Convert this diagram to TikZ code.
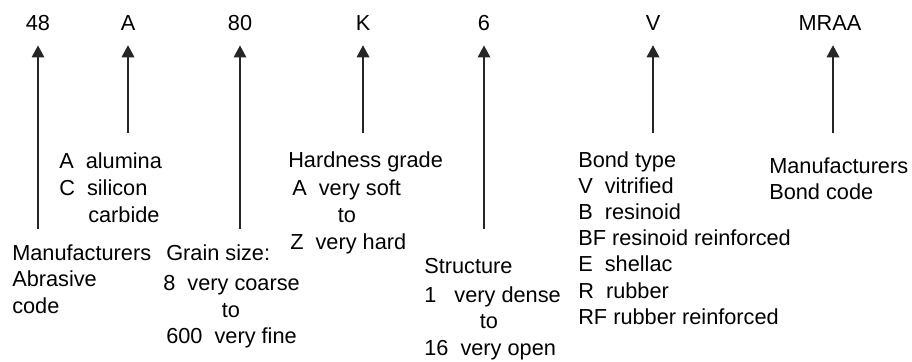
\documentclass[tikz,border=0pt]{standalone}
\usepackage{fontspec}
\setmainfont{Liberation Sans}
\usetikzlibrary{arrows.meta}
\begin{document}
\begin{tikzpicture}[x=0.75pt,y=-0.75pt,
  lbl/.style={inner sep=0pt, font=\fontsize{16.3}{19}\selectfont},
  txt/.style={lbl, anchor=base west},
  mid/.style={lbl, anchor=base},
  code/.style={lbl, anchor=base},
  ptr/.style={-{Triangle[width=9.5pt,length=9pt]}, line width=0.95pt, draw=black!85}]
\useasboundingbox (0,0) rectangle (912,361);

% designation letters and numbers
\node[code] (c48)  at (38,30)  {48};
\node[code] (cA)   at (128,30) {A};
\node[code] (c80)  at (240,30) {80};
\node[code] (cK)   at (363,30) {K};
\node[code] (c6)   at (484,30) {6};
\node[code] (cV)   at (653,30) {V};
\node[code] (cM)   at (830,30) {MRAA};

% tails of the pointers
\coordinate (t48) at (38,229);
\coordinate (tA)  at (128,133);
\coordinate (t80) at (240,229);
\coordinate (tK)  at (363,133);
\coordinate (t6)  at (484,229);
\coordinate (tV)  at (653,133);
\coordinate (tM)  at (833,133);

\draw[ptr] (t48) -- ([yshift=-11.25pt]c48.south);
\draw[ptr] (tA)  -- ([yshift=-11.25pt]cA.south);
\draw[ptr] (t80) -- ([yshift=-11.25pt]c80.south);
\draw[ptr] (tK)  -- ([yshift=-11.25pt]cK.south);
\draw[ptr] (t6)  -- ([yshift=-11.25pt]c6.south);
\draw[ptr] (tV)  -- ([yshift=-11.25pt]cV.south);
\draw[ptr] (tM)  -- ([yshift=-11.25pt]cM.south -| tM);

% abrasive manufacturer code
\node[txt] (m1) at (12,260) {Manufacturers};
\node[txt] (m2) at (12,286) {Abrasive};
\node[txt] (m3) at (12,313) {code};

% abrasive type
\node[txt] (a1) at (59,168) {A\ \ alumina};
\node[txt] (a2) at (59,195) {C\ \ silicon};
\node[txt] (a3) at (88,222) {carbide};

% grain size
\node[txt] (g1) at (166,260) {Grain size:};
\node[txt] (g2) at (163,290) {8\ \ very coarse};
\node[mid] (g3) at (231,317) {to};
\node[txt] (g4) at (166,343) {600\ \ very fine};

% hardness grade
\node[txt] (h1) at (288,167) {Hardness grade};
\node[txt] (h2) at (292,195) {A\ \ very soft};
\node[mid] (h3) at (347,222) {to};
\node[txt] (h4) at (290,249) {Z\ \ very hard};

% structure
\node[txt] (s1) at (424,273) {Structure};
\node[txt] (s2) at (424,302) {1\ \ \ very dense};
\node[mid] (s3) at (489,328) {to};
\node[txt] (s4) at (424,355) {16\ \ very open};

% bond type
\node[txt] (b1) at (578,167) {Bond type};
\node[txt] (b2) at (578,193) {V\ \ vitrified};
\node[txt] (b3) at (578,219) {B\ \ resinoid};
\node[txt] (b4) at (578,245) {BF resinoid reinforced};
\node[txt] (b5) at (578,271) {E\ \ shellac};
\node[txt] (b6) at (578,298) {R\ \ rubber};
\node[txt] (b7) at (578,324) {RF rubber reinforced};

% bond manufacturer code
\node[txt] (n1) at (769,173) {Manufacturers};
\node[txt] (n2) at (769,199) {Bond code};
\end{tikzpicture}
\end{document}
